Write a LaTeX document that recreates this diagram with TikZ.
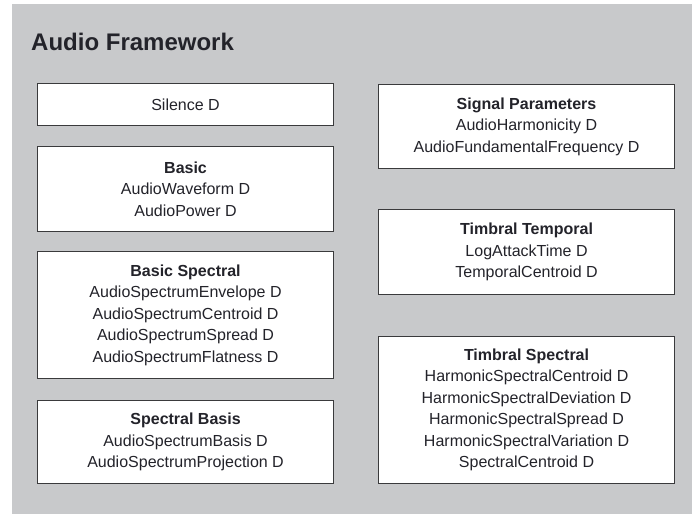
\documentclass[tikz,border=0pt]{standalone}
\usepackage{fontspec}
\setmainfont{Liberation Sans}
\usepackage{xcolor}
\usepackage{tikz}
\usetikzlibrary{positioning}

\definecolor{panelgray}{HTML}{C8C9CB}
\definecolor{framegray}{HTML}{3A3A3C}
\definecolor{inkgray}{HTML}{23232A}

\begin{document}
\begin{tikzpicture}[x=1pt,y=-1pt,
    descbox/.style={draw=framegray,line width=1.1pt,fill=white,
                    anchor=north west,minimum width=296,inner sep=0pt,
                    align=center,text=inkgray,
                    font=\fontsize{16}{21.5}\selectfont},
    hdr/.style={font=\bfseries}]
  \useasboundingbox (0,0) rectangle (699,514);
  % --- panel ---
  \fill[panelgray] (12,4) rectangle (692,514);
  \node[anchor=base west,inner sep=0pt,text=inkgray,
        font=\fontsize{24}{28}\selectfont\bfseries] (title) at (31,50)
        {Audio Framework};
  % --- left column ---
  \node[descbox,minimum height=42] (silence) at (37,83) {Silence D};
  \node[descbox,minimum height=85] (basic) at (37,146)
        {\textbf{Basic}\\AudioWaveform D\\AudioPower D};
  \node[descbox,minimum height=127] (basicspec) at (37,251)
        {\textbf{Basic Spectral}\\AudioSpectrumEnvelope D\\
         AudioSpectrumCentroid D\\AudioSpectrumSpread D\\
         AudioSpectrumFlatness D};
  \node[descbox,minimum height=83] (specbasis) at (37,400)
        {\textbf{Spectral Basis}\\AudioSpectrumBasis D\\
         AudioSpectrumProjection D};
  % --- right column ---
  \node[descbox,minimum height=84] (sigparam) at (378,84)
        {\textbf{Signal Parameters}\\AudioHarmonicity D\\
         AudioFundamentalFrequency D};
  \node[descbox,minimum height=85] (timbtemp) at (378,209)
        {\textbf{Timbral Temporal}\\LogAttackTime D\\TemporalCentroid D};
  \node[descbox,minimum height=147] (timbspec) at (378,336)
        {\textbf{Timbral Spectral}\\HarmonicSpectralCentroid D\\
         HarmonicSpectralDeviation D\\HarmonicSpectralSpread D\\
         HarmonicSpectralVariation D\\SpectralCentroid D};
\end{tikzpicture}
\end{document}
